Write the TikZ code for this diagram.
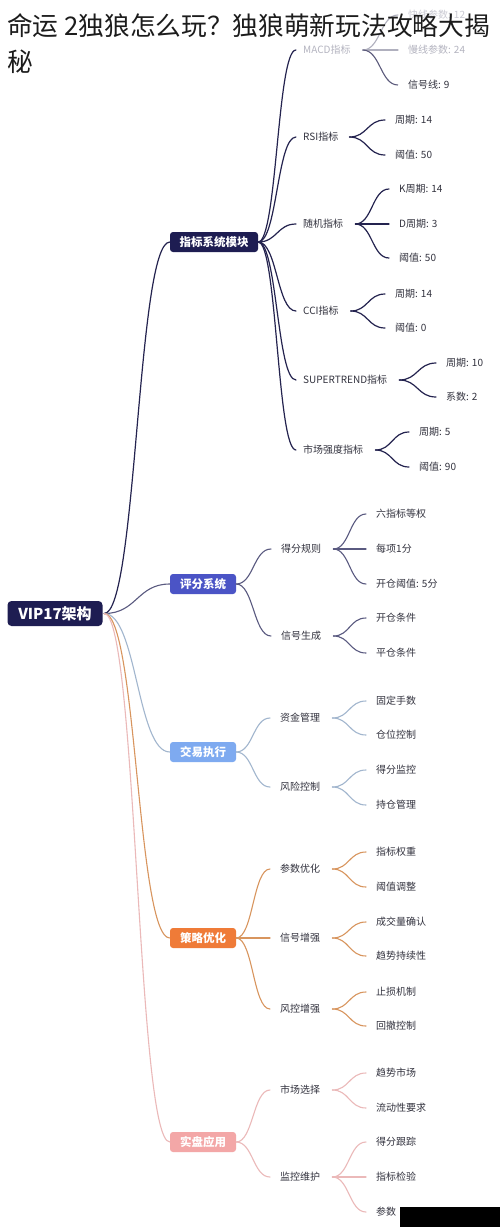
\documentclass[tikz,border=0pt]{standalone}
\usepackage{fontspec}
\setmainfont{Noto Sans CJK SC}
\usetikzlibrary{calc}
\definecolor{cInd}{HTML}{1E1D52}
\definecolor{cSco}{HTML}{4B54C6}
\definecolor{cTrd}{HTML}{7EAAF0}
\definecolor{cStg}{HTML}{EF7B38}
\definecolor{cLiv}{HTML}{F3A7A7}
\definecolor{eIndC}{HTML}{24234F}
\definecolor{eScoC}{HTML}{5A5A80}
\definecolor{eTrdC}{HTML}{A2B6CE}
\definecolor{eStgC}{HTML}{D8955E}
\definecolor{eLivC}{HTML}{EBB9B9}
\definecolor{txt}{HTML}{33333F}
\definecolor{fadeT}{HTML}{B4B4C0}
\definecolor{fadeE}{HTML}{B0B0BE}
\definecolor{ttl}{HTML}{1C1C1C}
\newcommand\lnk[3]{\draw[#3] let \p1=(#1), \p2=(#2) in (\p1) .. controls ({(\x1+\x2)/2},\y1) and ({(\x1+\x2)/2},\y2) .. (\p2);}
\begin{document}
\begin{tikzpicture}[x=1pt,y=-1pt,
  t/.style={anchor=west, inner sep=0pt, text=txt, font=\fontsize{10}{12}\selectfont},
  tf/.style={t, text=fadeT},
  l1/.style={rounded corners=3pt, minimum height=20pt, inner xsep=0pt, inner ysep=0pt, text=white, font=\bfseries\fontsize{11.5}{13}\selectfont},
  rootbox/.style={rounded corners=4pt, fill=cInd, minimum width=95pt, minimum height=25pt, inner sep=0pt, text=white, font=\bfseries\fontsize{15}{17}\selectfont},
  eInd/.style={draw=eIndC, line width=1.2pt, line cap=round},
  eSco/.style={draw=eScoC, line width=1.1pt, line cap=round},
  eTrd/.style={draw=eTrdC, line width=1.1pt, line cap=round},
  eStg/.style={draw=eStgC, line width=1.1pt, line cap=round},
  eLiv/.style={draw=eLivC, line width=1.1pt, line cap=round},
  eFade/.style={draw=fadeE, line width=1.1pt, line cap=round},
  ttlstyle/.style={anchor=west, inner sep=0pt, text=ttl, font=\fontsize{25.7}{30}\selectfont}]
\useasboundingbox[fill=white] (0,0) rectangle (500,1227);

% root and level 1
\node[rootbox] (root) at (55,613.5) {VIP17架构};
\node[l1, fill=cInd, minimum width=88pt] (ind) at (214,242) {指标系统模块};
\node[l1, fill=cSco, minimum width=66pt] (sco) at (203,584) {评分系统};
\node[l1, fill=cTrd, minimum width=66pt] (trd) at (203,752) {交易执行};
\node[l1, fill=cStg, minimum width=66pt] (stg) at (203,938) {策略优化};
\node[l1, fill=cLiv, minimum width=66pt] (liv) at (203,1142) {实盘应用};

% indicator branch
\node[tf] (macd) at (303,50) {MACD指标};
\node[t] (rsi) at (303,137) {RSI指标};
\node[t] (kdj) at (303,224) {随机指标};
\node[t] (cci) at (303,311) {CCI指标};
\node[t] (st) at (303,380) {SUPERTREND指标};
\node[t] (mkt) at (303,450) {市场强度指标};

\node[t, text=fadeT!70] (fast) at (408,15) {快线参数: 12};
\node[tf] (slow) at (408,50) {慢线参数: 24};
\node[t] (sig) at (408,85) {信号线: 9};
\node[t] (rsi1) at (395,120) {周期: 14};
\node[t] (rsi2) at (395,155) {阈值: 50};
\node[t] (k1) at (399,189) {K周期: 14};
\node[t] (k2) at (399,224) {D周期: 3};
\node[t] (k3) at (399,258) {阈值: 50};
\node[t] (c1) at (395,294) {周期: 14};
\node[t] (c2) at (395,328) {阈值: 0};
\node[t] (s1) at (446,363) {周期: 10};
\node[t] (s2) at (446,397) {系数: 2};
\node[t] (m1) at (419,432) {周期: 5};
\node[t] (m2) at (419,467) {阈值: 90};

% scoring branch
\node[t] (rule) at (281,549) {得分规则};
\node[t] (gen) at (281,636) {信号生成};
\node[t] (r1) at (376,514) {六指标等权};
\node[t] (r2) at (376,549) {每项1分};
\node[t] (r3) at (376,584) {开仓阈值: 5分};
\node[t] (g1) at (376,618) {开仓条件};
\node[t] (g2) at (376,653) {平仓条件};

% trading branch
\node[t] (fund) at (280,718) {资金管理};
\node[t] (risk) at (280,787) {风险控制};
\node[t] (f1) at (376,701) {固定手数};
\node[t] (f2) at (376,735) {仓位控制};
\node[t] (k4) at (376,770) {得分监控};
\node[t] (k5) at (376,805) {持仓管理};

% strategy branch
\node[t] (para) at (280,869) {参数优化};
\node[t] (sigE) at (280,938) {信号增强};
\node[t] (riskE) at (280,1009) {风控增强};
\node[t] (o1) at (376,852) {指标权重};
\node[t] (o2) at (376,887) {阈值调整};
\node[t] (o3) at (376,922) {成交量确认};
\node[t] (o4) at (376,956) {趋势持续性};
\node[t] (o5) at (376,992) {止损机制};
\node[t] (o6) at (376,1026) {回撤控制};

% live branch
\node[t] (sel) at (280,1090) {市场选择};
\node[t] (mon) at (280,1177) {监控维护};
\node[t] (v1) at (376,1073) {趋势市场};
\node[t] (v2) at (376,1108) {流动性要求};
\node[t] (v3) at (376,1142) {得分跟踪};
\node[t] (v4) at (376,1177) {指标检验};
\node[t] (v5) at (376,1212) {参数};

% root edges
\lnk{[xshift=1.5pt]root.east}{ind.west}{eInd}
\lnk{[xshift=1.5pt]root.east}{sco.west}{eSco}
\lnk{[xshift=1.5pt]root.east}{trd.west}{eTrd}
\lnk{[xshift=1.5pt]root.east}{stg.west}{eStg}
\lnk{[xshift=1.5pt]root.east}{liv.west}{eLiv}

% indicator edges
\lnk{ind.east}{[xshift=-7pt]macd.west}{eInd}
\lnk{ind.east}{[xshift=-7pt]rsi.west}{eInd}
\lnk{ind.east}{[xshift=-7pt]kdj.west}{eInd}
\lnk{ind.east}{[xshift=-7pt]cci.west}{eInd}
\lnk{ind.east}{[xshift=-7pt]st.west}{eInd}
\lnk{ind.east}{[xshift=-7pt]mkt.west}{eInd}
\lnk{[xshift=12pt]macd.east}{[xshift=-10pt]fast.west}{eFade}
\lnk{[xshift=12pt]macd.east}{[xshift=-10pt]slow.west}{eFade}
\lnk{[xshift=12pt]macd.east}{[xshift=-10pt]sig.west}{draw=eIndC!75, line width=1.1pt}
\lnk{[xshift=11pt]rsi.east}{[xshift=-10pt]rsi1.west}{eInd}
\lnk{[xshift=11pt]rsi.east}{[xshift=-10pt]rsi2.west}{eInd}
\lnk{[xshift=12pt]kdj.east}{[xshift=-10pt]k1.west}{eInd}
\lnk{[xshift=12pt]kdj.east}{[xshift=-10pt]k2.west}{eInd}
\lnk{[xshift=12pt]kdj.east}{[xshift=-10pt]k3.west}{eInd}
\lnk{[xshift=12pt]cci.east}{[xshift=-10pt]c1.west}{eInd}
\lnk{[xshift=12pt]cci.east}{[xshift=-10pt]c2.west}{eInd}
\lnk{[xshift=12pt]st.east}{[xshift=-10pt]s1.west}{eInd}
\lnk{[xshift=12pt]st.east}{[xshift=-10pt]s2.west}{eInd}
\lnk{[xshift=12pt]mkt.east}{[xshift=-10pt]m1.west}{eInd}
\lnk{[xshift=12pt]mkt.east}{[xshift=-10pt]m2.west}{eInd}

% scoring edges
\lnk{sco.east}{[xshift=-10pt]rule.west}{eSco}
\lnk{sco.east}{[xshift=-10pt]gen.west}{eSco}
\lnk{[xshift=12pt]rule.east}{[xshift=-10pt]r1.west}{eSco}
\lnk{[xshift=12pt]rule.east}{[xshift=-10pt]r2.west}{eSco}
\lnk{[xshift=12pt]rule.east}{[xshift=-10pt]r3.west}{eSco}
\lnk{[xshift=12pt]gen.east}{[xshift=-10pt]g1.west}{eSco}
\lnk{[xshift=12pt]gen.east}{[xshift=-10pt]g2.west}{eSco}

% trading edges
\lnk{trd.east}{[xshift=-10pt]fund.west}{eTrd}
\lnk{trd.east}{[xshift=-10pt]risk.west}{eTrd}
\lnk{[xshift=12pt]fund.east}{[xshift=-10pt]f1.west}{eTrd}
\lnk{[xshift=12pt]fund.east}{[xshift=-10pt]f2.west}{eTrd}
\lnk{[xshift=12pt]risk.east}{[xshift=-10pt]k4.west}{eTrd}
\lnk{[xshift=12pt]risk.east}{[xshift=-10pt]k5.west}{eTrd}

% strategy edges
\lnk{stg.east}{[xshift=-10pt]para.west}{eStg}
\lnk{stg.east}{[xshift=-10pt]sigE.west}{eStg}
\lnk{stg.east}{[xshift=-10pt]riskE.west}{eStg}
\lnk{[xshift=12pt]para.east}{[xshift=-10pt]o1.west}{eStg}
\lnk{[xshift=12pt]para.east}{[xshift=-10pt]o2.west}{eStg}
\lnk{[xshift=12pt]sigE.east}{[xshift=-10pt]o3.west}{eStg}
\lnk{[xshift=12pt]sigE.east}{[xshift=-10pt]o4.west}{eStg}
\lnk{[xshift=12pt]riskE.east}{[xshift=-10pt]o5.west}{eStg}
\lnk{[xshift=12pt]riskE.east}{[xshift=-10pt]o6.west}{eStg}

% live edges
\lnk{liv.east}{[xshift=-10pt]sel.west}{eLiv}
\lnk{liv.east}{[xshift=-10pt]mon.west}{eLiv}
\lnk{[xshift=12pt]sel.east}{[xshift=-10pt]v1.west}{eLiv}
\lnk{[xshift=12pt]sel.east}{[xshift=-10pt]v2.west}{eLiv}
\lnk{[xshift=12pt]mon.east}{[xshift=-10pt]v3.west}{eLiv}
\lnk{[xshift=12pt]mon.east}{[xshift=-10pt]v4.west}{eLiv}
\lnk{[xshift=12pt]mon.east}{[xshift=-10pt]v5.west}{eLiv}

% cover box at bottom right
\fill[black] (400,1207) rectangle (500,1227);

% title
\node[ttlstyle] (title1) at (7,26) {命运 2独狼怎么玩？独狼萌新玩法攻略大揭};
\node[ttlstyle] (title2) at (7,62) {秘};
\end{tikzpicture}
\end{document}
